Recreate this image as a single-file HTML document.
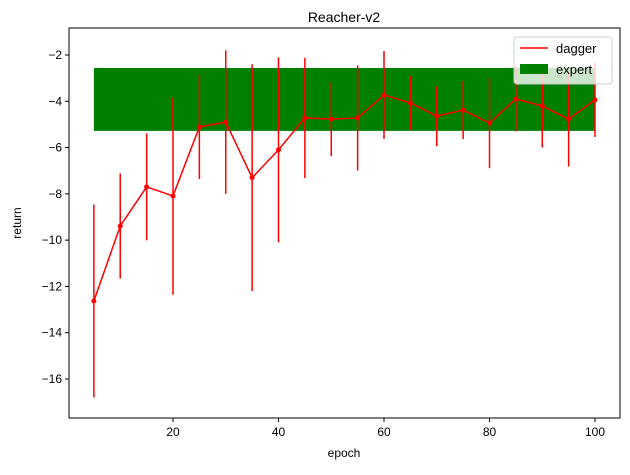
<!DOCTYPE html>
<html><head><meta charset="utf-8"><style>
body{margin:0;background:#fff;}
svg text{font-family:"Liberation Sans","DejaVu Sans",sans-serif;}
</style></head><body>
<svg id="chart" width="630" height="470" xmlns="http://www.w3.org/2000/svg"></svg>
<script>
const epochs=[5,10,15,20,25,30,35,40,45,50,55,60,65,70,75,80,85,90,95,100];
const means=[-12.63,-9.39,-7.7,-8.09,-5.11,-4.9,-7.3,-6.1,-4.72,-4.77,-4.72,-3.73,-4.07,-4.64,-4.38,-4.94,-3.9,-4.2,-4.77,-3.94];
const stds=[4.17,2.27,2.31,4.27,2.25,3.1,4.9,4.0,2.6,1.6,2.27,1.9,1.17,1.3,1.25,1.95,1.4,1.8,2.05,1.6];
const expertLow=-5.28, expertHigh=-2.56;
const xTicks=[20,40,60,80,100];
const yTicks=[-2,-4,-6,-8,-10,-12,-14,-16];
const NS="http://www.w3.org/2000/svg";
const svg=document.getElementById('chart');
const L=69,R=620,T=28,B=418;
const xs=v=>67.5+v*5.275;
const ys=v=>55+(-2-v)*23.14;
function mk(tag,attrs,parent){const e=document.createElementNS(NS,tag);for(const k in attrs)e.setAttribute(k,attrs[k]);(parent||svg).appendChild(e);return e;}
// expert band
const band=mk('rect',{x:xs(5),y:ys(expertHigh),width:xs(100)-xs(5),height:ys(expertLow)-ys(expertHigh),fill:'#008000'});


// error bars
epochs.forEach((e,i)=>{
 const l=mk('line',{x1:xs(e),x2:xs(e),y1:ys(means[i]+stds[i]),y2:ys(means[i]-stds[i]),stroke:'#ff0000','stroke-width':1.5});
 
 
});
const pl=mk('polyline',{points:epochs.map((e,i)=>xs(e)+','+ys(means[i])).join(' '),fill:'none',stroke:'#ff0000','stroke-width':1.5});


epochs.forEach((e,i)=>{
 const c=mk('circle',{cx:xs(e),cy:ys(means[i]),r:2.5,fill:'#ff0000'});
 
 
});
// axes frame
const fr=mk('rect',{x:L,y:T,width:R-L,height:B-T,fill:'none',stroke:'#000','stroke-width':1});


xTicks.forEach(t=>{
 mk('line',{x1:xs(t),x2:xs(t),y1:B,y2:B+4,stroke:'#000'});
 const tx=mk('text',{x:xs(t),y:B+18,'font-size':12,'text-anchor':'middle'});tx.textContent=t;
 
 
});
yTicks.forEach(t=>{
 mk('line',{x1:L-4,x2:L,y1:ys(t),y2:ys(t),stroke:'#000'});
 const tx=mk('text',{x:L-7,y:ys(t)+4,'font-size':12,'text-anchor':'end'});tx.textContent='\u2212'+Math.abs(t);
 
 
});
</script>
<svg style="position:absolute;left:0;top:0" width="630" height="470" xmlns="http://www.w3.org/2000/svg">
<text x="344" y="22" font-size="14" text-anchor="middle">Reacher-v2</text>
<text x="344" y="457" font-size="12" text-anchor="middle">epoch</text>
<text x="21" y="223" font-size="12" text-anchor="middle" transform="rotate(-90 21 223)">return</text>
<g>
<rect x="514" y="37" width="98" height="47" rx="3" fill="#fff" fill-opacity="0.8" stroke="#ccc"/>
<line x1="520" y1="48" x2="548" y2="48" stroke="#ff0000" stroke-width="1.5"/>
<text x="556" y="53" font-size="13">dagger</text>
<rect x="520" y="64" width="28" height="10" fill="#008000"/>
<text x="556" y="74" font-size="13">expert</text>
</g>
</svg>
</body></html>
